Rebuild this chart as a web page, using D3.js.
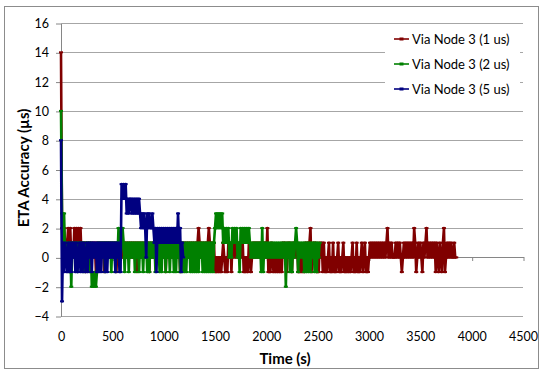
<!DOCTYPE html>
<html>
<head>
<meta charset="utf-8">
<script src="https://cdn.jsdelivr.net/npm/d3@7"></script>
<style>
  body { margin: 0; background: #fff; }
  svg { display: block; }
  text { font-family: Lato, "Open Sans", sans-serif; fill: #000; }
</style>
</head>
<body>
<svg id="chart"></svg>
<script>
const W = 543, H = 371;

// sampling interval of all three series (s)
const step = 10;

const xTicks = [0, 500, 1000, 1500, 2000, 2500, 3000, 3500, 4000, 4500];
const yTicks = [-4, -2, 0, 2, 4, 6, 8, 10, 12, 14, 16];

const seriesNames = ['Via Node 3 (1 us)', 'Via Node 3 (2 us)', 'Via Node 3 (5 us)'];
const seriesColors = ['#800000', '#008000', '#000080'];

// ETA accuracy (us), one value every 10 s
const redVals = [
  14,2,0,2,1,0,1,2,1,2,  0,1,0,2,1,2,1,2,1,2,  0,1,0,1,-1,1,0,1,0,1,  0,1,0,1,-1,1,0,1,0,1,
  0,1,-1,1,0,1,0,1,0,1,  0,1,0,1,-1,1,0,1,0,1,  0,1,0,1,0,1,0,1,0,1,  0,1,0,1,-1,1,0,1,0,1,
  0,1,0,1,0,1,-1,1,0,1,  0,1,0,1,0,1,0,1,0,1,  0,1,-1,1,0,1,0,1,0,1,  0,1,0,1,0,1,-1,1,0,1,
  0,1,0,1,0,1,0,1,0,1,  0,1,0,1,2,1,0,1,0,1,  0,1,0,1,2,1,0,1,0,1,
  -1,0,-1,0,-1,0,-1,0,1,0,  -1,0,-1,1,0,1,-1,1,0,1,  0,1,0,1,0,1,0,1,-1,0,  -1,0,-1,1,0,-1,0,1,0,1,
  0,1,0,1,0,1,0,1,0,1,  0,2,-1,0,-1,1,0,-1,0,-1,  0,-1,0,-1,0,-1,1,0,1,0,  -1,1,0,1,0,-1,1,0,1,0,
  1,-1,0,-1,0,-1,0,-1,1,0,  1,0,1,2,-1,0,1,0,1,-1,
  0,-1,1,0,1,-1,1,-1,0,-1,  0,1,-1,0,-1,1,-1,0,-1,0,  1,-1,0,-1,0,1,-1,0,-1,0,  -1,0,-1,0,1,-1,0,-1,1,-1,
  0,-1,0,1,-1,0,1,-1,0,-1,
  0,1,0,1,0,1,0,1,0,1,  0,1,0,1,0,1,0,1,2,0,  1,0,1,0,0,0,1,0,1,0,  1,0,-1,0,1,0,1,0,1,0,
  1,0,1,0,2,1,-1,0,1,0,  1,0,-1,1,0,1,2,0,1,0,  1,0,1,0,1,-1,1,0,-1,1,  0,-1,1,2,-1,0,1,0,1,0,
  1,0,0,1,0,0
];

const greenVals = [
  10,3,1,3,0,1,0,1,-1,1,  -2,1,0,1,0,1,-1,1,0,1,  0,1,-1,1,0,1,0,1,-1,1,  -2,-1,-2,-1,-2,-1,1,0,1,0,
  1,0,1,-1,1,0,1,0,1,-1,  1,0,1,-1,1,0,2,1,0,1,  2,1,-1,1,0,1,-1,1,0,1,  0,1,-1,1,0,1,-1,1,0,1,
  -1,1,0,1,-1,1,-1,1,0,1,  0,1,-1,1,0,1,-1,1,-1,1,  0,1,-1,1,0,1,-1,1,0,1,  -1,1,-1,1,0,1,-1,1,-1,1,
  -1,1,-1,1,0,1,-1,1,-1,1,  -1,1,-1,1,-1,1,0,1,-1,1,  -1,1,-1,1,-1,1,-1,1,-1,1,
  2,3,2,3,2,3,2,3,1,2,  1,2,1,2,0,1,0,2,1,2,  1,2,0,1,-1,2,1,2,1,2,  1,2,1,2,1,0,1,0,1,0,
  1,0,1,0,1,-1,2,-1,1,0,  1,0,1,0,1,0,1,0,1,0,  1,0,1,0,1,0,1,0,1,-2,  1,0,1,-1,1,-1,1,0,1,2,
  1,-1,1,0,1,0,1,-1,1,-1,  1,-1,1,-1,1,0,1,-1,1,-1,  1,0,1
];

const blueVals = [
  8,-3,1,-1,1,0,-1,1,-1,1,  -1,1,0,1,-1,1,-1,0,1,-1,  1,-1,1,0,-1,1,-1,1,0,1,  -1,1,1,0,1,-1,1,-1,1,-1,
  1,0,1,-1,1,-1,1,0,1,0,  1,0,1,-1,1,0,1,-1,-1,5,  4,5,4,5,3,4,3,4,4,3,  4,3,4,3,4,3,4,3,2,3,
  2,3,2,0,3,2,3,2,2,3,  2,1,2,-1,2,1,2,1,2,1,  2,1,2,1,2,1,2,1,2,1,  2,1,2,1,3,1,2,-1,1,0
];

const seriesVals = [redVals, greenVals, blueVals];

const plot = { left: 61, right: 523, top: 23, bottom: 316 };

const svg = d3.select('#chart')
    .attr('width', W)
    .attr('height', H);

// chart frame
svg.append('rect')
    .attr('x', 4.5).attr('y', 6.5)
    .attr('width', 534).attr('height', 362)
    .attr('fill', 'none')
    .attr('stroke', '#8c8c8c');

const x = d3.scaleLinear().domain([0, 4500]).range([plot.left, plot.right]);
const y = d3.scaleLinear().domain([-4, 16]).range([plot.bottom, plot.top]);

const snap = v => Math.round(v) + 0.5;

// gridlines
svg.append('g')
    .selectAll('line')
    .data(yTicks)
    .enter()
    .append('line')
    .attr('x1', plot.left).attr('x2', plot.right)
    .attr('y1', d => snap(y(d))).attr('y2', d => snap(y(d)))
    .attr('stroke', '#a6a6a6')
    .attr('stroke-width', 1);

// y axis
const yAxis = svg.append('g')
    .attr('transform', `translate(${snap(plot.left) - 0.5},0.5)`)
    .call(d3.axisLeft(y).tickValues(yTicks).tickSize(5).tickSizeOuter(0).tickPadding(7));
yAxis.select('.domain').attr('stroke', '#868686');
yAxis.selectAll('.tick line').attr('stroke', '#868686');
yAxis.selectAll('text').attr('font-size', 12.5).attr('font-family', 'Lato, sans-serif');

// x axis line crosses at 0, labels sit low
const xAxis = svg.append('g')
    .attr('transform', `translate(0.5,${snap(y(0)) - 0.5})`)
    .call(d3.axisBottom(x).tickValues(xTicks).tickSize(4).tickSizeOuter(0).tickFormat(''));
xAxis.select('.domain').attr('stroke', '#868686');
xAxis.selectAll('.tick line').attr('stroke', '#868686');

const xLabels = svg.append('g')
    .attr('transform', `translate(0,${plot.bottom})`)
    .call(d3.axisBottom(x).tickValues(xTicks).tickSize(0).tickPadding(16.5).tickFormat(d3.format('d')));
xLabels.select('.domain').remove();
xLabels.selectAll('text').attr('font-size', 12.5).attr('font-family', 'Lato, sans-serif');

// axis titles
svg.append('text')
    .attr('transform', `translate(29,168) rotate(-90)`)
    .attr('text-anchor', 'middle')
    .attr('font-size', 15)
    .attr('font-weight', 'bold')
    .text('ETA Accuracy (µs)');

svg.append('text')
    .attr('x', 285).attr('y', 364)
    .attr('text-anchor', 'middle')
    .attr('font-size', 15)
    .attr('font-weight', 'bold')
    .text('Time (s)');

// series
const line = d3.line()
    .x((d, i) => x(i * step))
    .y(d => y(d));

const gSeries = svg.append('g');
seriesVals.forEach((vals, k) => {
    const g = gSeries.append('g');
    g.append('path')
        .datum(vals)
        .attr('d', line)
        .attr('fill', 'none')
        .attr('stroke', seriesColors[k])
        .attr('stroke-width', 2.6)
        .attr('stroke-linejoin', 'round');
    g.selectAll('rect')
        .data(vals)
        .enter()
        .append('rect')
        .attr('x', (d, i) => x(i * step) - 2)
        .attr('y', d => y(d) - 1)
        .attr('width', 4)
        .attr('height', 2)
        .attr('fill', seriesColors[k]);
});

// legend
const legend = svg.append('g');
legend.append('rect')
    .attr('x', 385).attr('y', 27)
    .attr('width', 135).attr('height', 76)
    .attr('fill', '#fff');

const rows = [39, 64, 89];
seriesNames.forEach((name, k) => {
    const r = legend.append('g').attr('transform', `translate(0,${rows[k]})`);
    r.append('line')
        .attr('x1', 394).attr('x2', 409)
        .attr('y1', 0).attr('y2', 0)
        .attr('stroke', seriesColors[k])
        .attr('stroke-width', 1.6);
    r.append('rect')
        .attr('x', 399.5).attr('y', -1.5)
        .attr('width', 4).attr('height', 3)
        .attr('fill', seriesColors[k]);
    r.append('text')
        .attr('x', 412).attr('y', 4.5)
        .attr('font-size', 13)
        .text(name);
});
</script>
</body>
</html>
